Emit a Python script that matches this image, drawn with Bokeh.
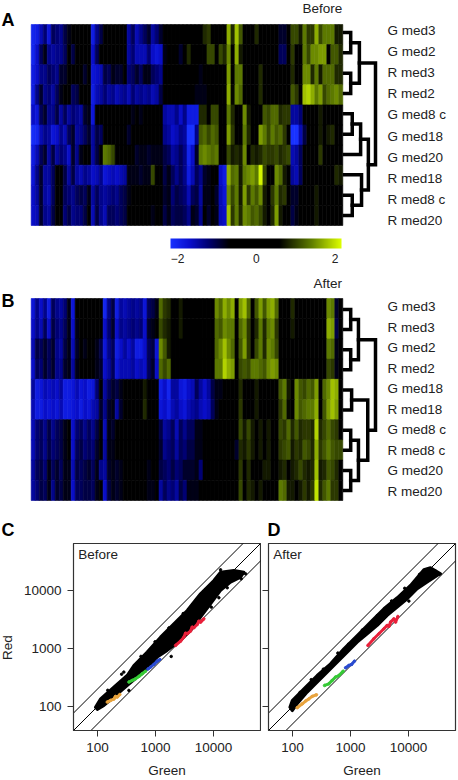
import numpy as np
from bokeh.embed import file_html
from bokeh.resources import INLINE
from bokeh.plotting import figure
from bokeh.layouts import column, row
from bokeh.models import (Range1d, LinearColorMapper, ColorBar, FixedTicker, Label,
                          NumeralTickFormatter, ColumnDataSource)
from bokeh.core.properties import value

FONT = "Liberation Sans"
TICKS = [100, 1000, 10000]

LABELS_A = ["G med3", "G med2", "R med3", "R med2", "G med8 c", "G med18", "G med20", "R med18", "R med8 c", "R med20"]
LABELS_B = ["G med3", "R med3", "G med2", "R med2", "G med18", "R med18", "G med8 c", "R med8 c", "G med20", "R med20"]

# heat-map values, in tenths of a unit, one list per row
A1 = [-18,-17,-14,-11,-16,-10,-11,-12,-9,-7,0,0,0,0,0,-17,-12,-9,0,0,0,0,0,0,-13,-10,-14,-12,-10,-8,-13,-11,-8,0,0,0,0,0,0, 0,0,0,0,8,9,0,0,0,0,16,8,17,11,0,0,0,8,0,0,0,0,0,-8,-8,0,10,10,7,13,9,9,16,10,13,13,13,7,7]
A2 = [-18,-15,-10,-7,-12,-13,-12,-12,-10,0,-9,0,0,0,0,-15,-10,0,0,0,0,0,0,0,-13,-11,-14,-14,-14,-11,-15,-16,-15,-7,0,0,0,-8,0, 8,0,0,0,0,10,10,0,10,8,14,0,16,7,0,0,0,0,0,0,0,0,0,-10,-10,0,9,0,0,13,10,14,14,15,15,0,11,11,8,8]
A3 = [-17,-15,-12,-12,-10,-11,-12,-8,-8,0,0,0,0,-8,0,-16,-15,-14,-9,-10,-7,-8,-8,0,-11,-10,-8,-10,-7,-7,-10,-11,-12,0,0,0,0,0,0, 0,0,0,-7,0,0,0,0,0,0,15,0,13,13,0,0,0,0,8,0,0,0,0,0,0,0,8,0,0,14,14,8,13,7,12,12,12,8,8]
A4 = [-17,-12,-8,-12,-11,-13,-10,-7,0,0,-10,-9,0,0,0,-17,-14,-13,-11,-13,-12,-14,-13,-12,-14,-11,-13,-12,-13,-12,-14,-13,-9,0,0,0,0,0,0, 0,0,-7,-7,-7,0,0,0,0,0,16,6,14,12,0,0,0,0,8,0,0,0,0,0,0,0,11,9,0,17,18,16,13,15,10,12,13,14,12]
A5 = [-15,-16,-10,-8,-12,-12,-9,-13,-10,-13,-11,-12,-13,-8,-7,-16,0,0,0,0,0,0,0,0,0,-7,0,-7,0,0,0,0,0,-13,-14,-14,-12,-15,-12, -17,-17,-17,8,8,0,10,10,0,0,13,8,0,0,14,7,0,0,0,11,10,12,12,8,9,9,-13,-13,-11,0,0,0,0,7,0,0,0,0,0]
A6 = [-19,-18,-14,-12,-13,-16,-15,-12,-14,-10,-8,-13,-12,-10,-8,-13,-9,-10,0,0,0,0,0,0,-8,0,0,0,0,0,0,0,0,-12,-13,-15,-14,-12,-13, -20,-20,-12,11,12,10,12,11,0,0,15,9,0,0,13,8,0,0,15,13,10,13,11,12,9,0,-20,-20,-14,-9,0,0,0,7,0,7,8,0,0]
A7 = [-17,-14,-10,-8,-13,-9,-13,-11,-12,-15,-8,-12,-7,0,0,-13,-9,0,13,12,10,0,0,0,0,0,-8,-7,-7,-8,-7,-7,-7,-9,-10,-13,-12,-10,-12, -18,-15,-8,13,14,13,12,13,0,0,10,7,8,7,14,0,8,7,8,10,9,9,10,8,9,10,-14,-13,-10,0,0,0,0,9,0,0,0,0,0]
A8 = [-16,-12,-8,-13,-13,-10,0,0,-9,-13,-9,-13,-14,-12,-13,-15,-14,-12,-16,-15,-14,-15,-14,-13,-7,-7,-7,-8,-7,-7,10,0,0,-9,-7,-10,-12,-10,-12, -17,-14,-10,-12,-8,-7,0,0,-15,-17,16,12,13,7,13,14,15,13,20,10,0,0,14,12,7,0,-13,-14,-10,0,0,0,0,0,0,0,0,8,7]
A9 = [-15,-13,-8,-13,-14,-10,0,0,-10,-11,-12,-10,-9,-10,-7,-13,-10,-12,-13,-12,-11,-12,-10,-9,-7,0,0,0,0,0,0,0,0,-8,-7,-11,-9,-10,-11, -14,-10,-9,-13,-7,-7,0,-8,-14,-16,14,10,13,7,15,9,13,11,14,7,0,9,13,8,9,0,-8,-8,-6,0,0,0,7,0,0,0,0,0,0]
A10 = [-15,-14,-8,-12,-13,-9,0,0,-11,-9,-12,-11,-11,-9,0,-14,-9,-12,-14,-10,-10,-11,-10,-9,0,0,0,0,0,0,-7,0,0,-9,-7,-10,-9,-9,-10, -12,-7,-8,-12,0,-8,0,-7,-14,-15,17,9,13,8,14,13,11,12,10,7,0,8,15,7,0,0,-9,-7,0,0,0,0,7,0,0,0,0,0,0]

B1 = [-16,-12,-15,-12,-17,-10,-12,-13,-11,-7,-16,0,0,0,0,0,0,0,-18,-12,-9,-17,-13,-14,-13,-12,-13,-12,-16,-10,-9,-7,12,9,8,0,0,7,0,0,0,0,0,0,0,0,14,12,16,14,16,0,15,17,12,0,11,15,11,15,16,12,0,0,0,8,0,0,0,0,0,0,0,0,14,13,-8,0]
B2 = [-15,-12,-14,-10,-15,-9,-11,-12,-10,-7,-15,-7,0,0,0,0,0,0,-15,-11,-8,-15,-12,-13,-12,-11,-12,-11,-15,-8,-7,0,10,8,7,0,0,7,0,0,0,0,0,0,0,0,12,11,14,13,13,0,12,14,9,0,8,13,8,13,14,9,0,0,0,7,0,0,0,0,0,0,0,0,16,15,-9,0]
B3 = [-14,-9,-10,-8,-10,-8,-12,-13,-9,-7,-14,-8,0,-7,0,0,-7,-9,-16,-12,-10,-17,-15,-13,-15,-13,-17,-17,-15,-10,-9,-16,14,11,7,0,0,0,0,0,0,0,0,0,0,0,12,14,17,14,12,0,11,15,9,0,10,13,8,14,13,10,0,0,0,0,0,0,0,0,0,0,0,0,13,12,-7,0]
B4 = [-15,-10,-11,-8,-10,-8,-12,-12,-8,-7,-13,-7,0,0,0,0,-7,-8,-15,-13,-10,-16,-14,-14,-14,-13,-15,-14,-15,-10,-8,-15,12,10,12,0,0,0,0,0,0,0,0,0,0,0,13,13,18,16,15,0,10,11,10,13,13,12,11,14,15,14,0,0,0,0,0,0,0,0,0,0,0,0,10,9,-7,0]
B5 = [-13,-17,-16,-14,-15,-14,-15,-13,-17,-17,-16,-14,-16,-15,-17,-16,-11,0,-13,-10,-8,-9,-7,0,0,0,0,0,7,0,0,0,-17,-15,-18,-13,-13,-16,-17,-15,-14,-10,-13,-15,-13,-9,-7,-7,0,0,0,0,8,0,0,0,7,0,0,0,0,0,11,13,7,0,14,11,10,12,11,15,0,12,14,17,16,0]
B6 = [-14,-17,-17,-15,-16,-15,-16,-14,-17,-17,-16,-15,-17,-15,-16,-14,-13,-8,-12,-8,-7,-13,-8,0,0,0,0,0,8,0,0,0,-16,-15,-17,-14,-13,-15,-16,-14,-13,-12,-14,-15,-14,-10,-7,0,0,0,0,0,9,0,0,0,7,0,0,0,0,0,9,12,6,0,14,11,12,13,13,16,0,11,15,17,15,0]
B7 = [-14,-11,-10,-12,-9,-12,-10,-9,-7,0,-15,-11,-10,-12,-10,-12,-9,0,-14,-7,-8,0,0,0,0,0,0,0,0,0,0,0,-9,-13,-12,-10,-14,-10,-12,-10,-10,-7,-7,0,0,0,0,0,0,0,0,0,10,7,10,7,0,7,0,7,0,0,10,9,12,8,11,8,9,9,8,18,8,10,12,10,9,0]
B8 = [-14,-11,-10,-12,-9,-11,-10,-9,-7,0,-15,-10,-9,-11,-10,-11,-8,0,-13,-7,-7,0,0,0,0,0,0,0,0,0,0,0,-8,-12,-11,-10,-13,-10,-11,-9,-9,-7,-7,0,0,0,0,0,0,0,0,-8,8,7,9,7,0,7,0,7,0,0,9,10,11,7,9,8,11,10,8,16,9,11,13,11,10,10]
B9 = [-13,-10,-9,-11,-7,-10,-8,-10,-7,-7,-14,-9,-10,-9,-8,-10,-7,-12,-13,-8,-7,-8,-7,0,0,0,0,0,0,-7,0,0,-9,-10,-11,-9,-11,-10,-8,-8,-8,-7,-11,0,0,0,0,0,0,0,0,0,9,0,8,0,0,0,7,7,0,0,7,8,0,7,8,10,8,7,8,17,7,8,11,10,8,0]
B10 = [-13,-11,-9,-10,-7,-12,-8,-9,-7,-7,-15,-10,-10,-9,-9,-10,-7,0,-15,-9,-7,-8,-7,0,0,0,0,0,0,-7,-7,0,-13,-10,-12,-11,-13,-9,-11,-7,-7,-7,0,0,0,0,0,0,0,0,0,0,10,0,8,7,0,7,0,0,0,0,13,12,7,7,0,7,9,7,9,19,8,11,13,9,9,0]

HEAT_A = [A1, A2, A3, A4, A5, A6, A7, A8, A9, A10]
HEAT_B = [B1, B2, B3, B4, B5, B6, B7, B8, B9, B10]

# dendrogram merges: (left node, right node, height); leaves are nodes 0-9
MERGE_A = [(0,1,.2),(2,3,.2),(10,11,.48),(4,5,.25),(13,6,.52),(8,9,.25),(7,15,.55),(14,16,.77),(12,17,1)]
MERGE_B = [(0,1,.2),(2,3,.2),(10,11,.45),(4,5,.23),(6,7,.2),(8,9,.2),(14,15,.45),(13,16,.75),(12,17,1)]

# colour bar anchors
CB_VALUES = [-2.18, -1.7, -1.2, -0.68, 0.58, 1.4, 2.16]
CB_R = [25, 10, 0, 0, 0, 95, 221]
CB_G = [50, 15, 0, 0, 0, 125, 255]
CB_B = [255, 205, 110, 0, 0, 0, 0]

# scatter panel C
BAND_C_GREEN = [92,113,191,324,423,718,1219,2070,3516,5970,10140,13210,22440,33340,29240,19630,13210,8870,5970,4010,2700,1589,1069,718,483,324,191,129,99]
BAND_C_RED = [97,135,215,342,509,865,1567,2660,4519,8770,14860,20700,22130,20700,17000,13930,10000,5890,3470,2040,1374,925,710,446,321,230,145,104,89]
OUT_C_GREEN = [284,1862,13210,30000,35650,23930,17220,12360,9120,347,150,260,560,980,1700,3000,5200,8900]
OUT_C_RED = [391,728,22700,15890,19360,16980,11120,7490,5160,189,190,360,730,1300,2260,4000,7000,12200]
ORANGE_C_GREEN = [147,168,191,204,218,243]
ORANGE_C_RED = [119,127,134,149,145,161]
GREEN_C_GREEN = [347,396,452,516,589,673]
GREEN_C_RED = [263,281,300,329,366,406]
BLUE_C_GREEN = [738,820,936,1069,1189]
BLUE_C_RED = [441,477,530,605,646]
RED_C_GREEN = [2213,2698,3083,3289,3516,4010,4286,4577,5225,5584,5970,6808]
RED_C_RED = [1127,1337,1567,1837,1791,1991,2334,2270,2594,2958,2844,3243]

# scatter panel D
BAND_D_GREEN = [90,99,157,266,452,767,1303,2213,3758,6380,10810,18360,23930,35650,31190,20990,14090,9480,6380,4286,2884,1936,1303,877,589,396,266,179,120,99]
BAND_D_RED = [97,127,202,342,544,986,1675,2844,4831,7482,12200,22700,24600,19360,18160,13930,10690,7178,5164,3707,2495,1791,1285,865,581,391,263,177,111,85]
OUT_D_GREEN = [29240,33340,10130,605,135,210,340,920,1600,2900,5100,8600,15500]
OUT_D_RED = [21530,19360,6550,832,175,290,440,1180,2080,3700,6600,10900,18900]
ORANGE_D_GREEN = [120,147,168,191,218,259]
ORANGE_D_RED = [95,111,124,135,149,159]
GREEN_D_GREEN = [356,423,483,551,630,748]
GREEN_D_RED = [230,246,281,321,342,406]
BLUE_D_GREEN = [820,936,1040,1172]
BLUE_D_RED = [464,509,530,605]
RED_D_GREEN = [1991,2523,3083,3758,4286,4581,4898,5585,5970,6546]
RED_D_RED = [1127,1468,1791,2183,2495,2396,2844,3243,2844,3564]

GROUP_COLORS = {"orange": "#e8a33d", "green": "#35c935", "blue": "#2a4bd0", "red": "#e8203a"}

anchors = np.linspace(CB_VALUES[0], CB_VALUES[-1], 256)
PALETTE = ["#%02x%02x%02x" % (int(np.interp(v, CB_VALUES, CB_R)), int(np.interp(v, CB_VALUES, CB_G)), int(np.interp(v, CB_VALUES, CB_B))) for v in anchors]
mapper = LinearColorMapper(palette=PALETTE, low=CB_VALUES[0], high=CB_VALUES[-1])


def span(a, a_px, b, b_px):
    return lambda p: a + (p - a_px) * (b - a) / (b_px - a_px)


def heat_panel(height, rows, labels, merges, top, bottom, leaf, lab, letter, letter_base, title, title_x, title_base):
    fy = span(0, top, 10, bottom)
    fx = span(0, 30.7, 78, 342.3)
    p = figure(width=458, height=height, output_backend="svg", toolbar_location=None,
               x_axis_location=None, y_axis_location=None,
               x_range=Range1d(fx(0), fx(458)), y_range=Range1d(fy(height), fy(0)),
               min_border=0, outline_line_color=None, background_fill_color="white")
    p.grid.visible = False
    fdx = span(0, 344, 1, 375)
    p.extra_x_ranges["dendro"] = Range1d(fdx(0), fdx(458))
    fl = span(0, leaf[0], 9, leaf[1])
    p.extra_y_ranges["leaf"] = Range1d(fl(height), fl(0))
    fb = span(0, lab[0], 9, lab[1])
    p.extra_y_ranges["lab"] = Range1d(fb(height), fb(0))

    xs, ys, vs = [], [], []
    for i, r in enumerate(rows):
        r = r[:78] + [0] * (78 - len(r))
        for j, c in enumerate(r):
            xs.append(j + .5)
            ys.append(i + .5)
            vs.append(c / 9 if c < 0 else c / 9.5)
    src = ColumnDataSource(dict(x=xs, y=ys, v=vs))
    p.rect(x="x", y="y", width=1, height=1, source=src,
           fill_color={"field": "v", "transform": mapper},
           line_color={"field": "v", "transform": mapper}, line_width=0.6)

    pos = {i: (float(i), 0.0) for i in range(10)}
    segx, segy = [], []
    for k, (l, r, h) in enumerate(merges):
        yl, hl = pos[l]
        yr, hr = pos[r]
        segx.append([hl, h, h, hr])
        segy.append([yl, yl, yr, yr])
        pos[10 + k] = ((yl + yr) / 2, h)
    p.multi_line(segx, segy, x_range_name="dendro", y_range_name="leaf",
                 line_color="black", line_width=3.5, line_join="miter", line_cap="square")

    p.text(x=[1.39] * 10, y=list(range(10)), text=labels, x_range_name="dendro", y_range_name="lab",
           text_font=value(FONT), text_font_size="13.5px", text_color="#222222",
           text_align="left", text_baseline="middle")
    p.add_layout(Label(x=1, y=height - letter_base + 8, x_units="screen", y_units="screen", text=letter,
                       text_font=FONT, text_font_size="18px", text_font_style="bold", text_color="black",
                       text_baseline="alphabetic"))
    p.add_layout(Label(x=title_x, y=height - title_base + 5, x_units="screen", y_units="screen", text=title,
                       text_font=FONT, text_font_size="13.5px", text_color="#222222",
                       text_baseline="alphabetic"))
    return p


figA = heat_panel(272, HEAT_A, LABELS_A, MERGE_A, 24, 225, (32, 215), (30, 220), "A", 27, "Before", 302, 13)
cb = ColorBar(color_mapper=mapper, ticker=FixedTicker(ticks=[-2, 0, 2]), orientation="horizontal",
              location=(170, 7), width=171, height=10, padding=0, margin=0,
              major_label_overrides={-2: "\u22122", 0: "0", 2: "2"},
              major_label_text_font=FONT, major_label_text_font_size="12px", major_label_text_color="#222222",
              major_tick_line_color=None, minor_tick_line_color=None, bar_line_color=None, border_line_color=None,
              background_fill_color=None, label_standoff=5)
figA.add_layout(cb, "center")
figB = heat_panel(238, HEAT_B, LABELS_B, MERGE_B, 298 - 272, 500 - 272, (309 - 272, 490 - 272), (306 - 272, 491 - 272), "B", 308 - 272, "After", 313, 288 - 272)


def scatter_panel(width, left, right, band, outliers, groups, title, ylabels):
    lo, hi = 38.5, 64500
    p = figure(width=width, height=238, output_backend="svg", toolbar_location=None,
               x_axis_type="log", y_axis_type="log", x_range=Range1d(lo, hi), y_range=Range1d(lo, hi),
               min_border_left=left, min_border_right=right, min_border_top=1, min_border_bottom=50,
               outline_line_color="#333333", outline_line_width=1.2, background_fill_color="white")
    p.grid.visible = False
    for ax in (p.xaxis[0], p.yaxis[0]):
        ax.ticker = FixedTicker(ticks=TICKS, minor_ticks=[])
        ax.formatter = NumeralTickFormatter(format="0")
        ax.major_label_text_font = FONT
        ax.major_label_text_font_size = "13.5px"
        ax.major_label_text_color = "#222222"
        ax.major_tick_out = 6
        ax.major_tick_in = 0
        ax.minor_tick_out = 0
        ax.axis_line_color = "#333333"
        ax.major_tick_line_color = "#333333"
        ax.major_label_standoff = 6
    p.xaxis[0].axis_label = "Green"
    p.xaxis[0].axis_label_text_font = FONT
    p.xaxis[0].axis_label_text_font_size = "13.5px"
    p.xaxis[0].axis_label_text_font_style = "normal"
    p.xaxis[0].axis_label_text_color = "#222222"
    p.xaxis[0].axis_label_standoff = 8
    if not ylabels:
        p.yaxis[0].major_label_overrides = {t: "" for t in TICKS}
        p.yaxis[0].major_label_standoff = 0
    for mult in (2, 1, 0.5):
        p.line([10, 100000], [10 * mult, 100000 * mult], line_color="black", line_width=1)
    p.patch(band[0], band[1], fill_color="black", line_color="black", line_width=3, line_join="round")
    p.scatter(outliers[0], outliers[1], size=2.5, color="black")
    for name, (gx, gy) in groups.items():
        p.line(gx, gy, line_color=GROUP_COLORS[name], line_width=3)
        p.scatter(gx, gy, size=2.5, color=GROUP_COLORS[name])
    p.add_layout(Label(x=4.7, y=176, x_units="screen", y_units="screen", text=title,
                       text_font=FONT, text_font_size="13.5px", text_color="#222222",
                       text_baseline="alphabetic"))
    return p


strip = figure(width=458, height=32, output_backend="svg", toolbar_location=None,
               x_axis_location=None, y_axis_location=None, x_range=Range1d(0, 458), y_range=Range1d(0, 32),
               min_border=0, outline_line_color=None)
strip.grid.visible = False
for letter, x in (("C", 1), ("D", 267)):
    strip.add_layout(Label(x=x, y=13, x_units="screen", y_units="screen", text=letter,
                           text_font=FONT, text_font_size="18px", text_font_style="bold", text_color="black",
                           text_baseline="alphabetic"))

side = figure(width=18, height=238, output_backend="svg", toolbar_location=None,
              x_axis_location=None, y_axis_location=None, x_range=Range1d(0, 18), y_range=Range1d(0, 238),
              min_border=0, outline_line_color=None)
side.grid.visible = False
side.add_layout(Label(x=7, y=83, x_units="screen", y_units="screen", text="Red", angle=90,
                      angle_units="deg", text_font=FONT, text_font_size="13.5px", text_color="#222222",
                      text_align="center", text_baseline="alphabetic"))

figC = scatter_panel(243, 55, 1, (BAND_C_GREEN, BAND_C_RED), (OUT_C_GREEN, OUT_C_RED),
                     {"orange": (ORANGE_C_GREEN, ORANGE_C_RED), "green": (GREEN_C_GREEN, GREEN_C_RED),
                      "blue": (BLUE_C_GREEN, BLUE_C_RED), "red": (RED_C_GREEN, RED_C_RED)}, "Before", True)
figD = scatter_panel(197, 7, 3, (BAND_D_GREEN, BAND_D_RED), (OUT_D_GREEN, OUT_D_RED),
                     {"orange": (ORANGE_D_GREEN, ORANGE_D_RED), "green": (GREEN_D_GREEN, GREEN_D_RED),
                      "blue": (BLUE_D_GREEN, BLUE_D_RED), "red": (RED_D_GREEN, RED_D_RED)}, "After", False)

page = column(figA, figB, strip, row(side, figC, figD, spacing=0), spacing=0,
              styles={"position": "absolute", "left": "0px", "top": "0px"})
open("out.html", "w").write(file_html(page, INLINE))
